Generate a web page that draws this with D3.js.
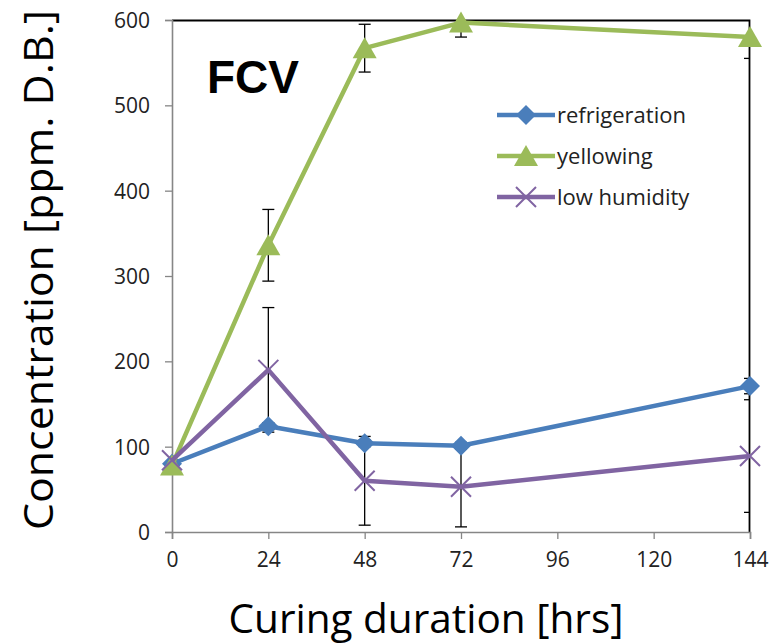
<!DOCTYPE html>
<html>
<head>
<meta charset="utf-8">
<script src="https://cdn.jsdelivr.net/npm/d3@7"></script>
<style>
  body { margin: 0; background: #fff; }
  svg { display: block; }
  text { font-family: "Open Sans", "Liberation Sans", sans-serif; }
</style>
</head>
<body>
<script>
// curing duration in hours
var hours = [0, 24, 48, 72, 144];
var xTicks = [0, 24, 48, 72, 96, 120, 144];
var yTicks = [0, 100, 200, 300, 400, 500, 600];

var seriesNames = ["refrigeration", "yellowing", "low humidity"];
var refrigeration = [80, 124, 104, 101, 171];
var refrigerationErr = [4, 4, 4, 4, 9];
var yellowing = [78, 336, 567, 597, 580];
var yellowingErr = [4, 42, 28, 17, 25];
var lowHumidity = [84, 190, 60, 53, 89];
var lowHumidityErr = [4, 73, 52, 47, 66];

var width = 774, height = 644;
var margin = {top: 20, right: 24, bottom: 112, left: 172};
var innerW = width - margin.left - margin.right;
var innerH = height - margin.top - margin.bottom;

var svg = d3.select("body").append("svg")
    .attr("width", width)
    .attr("height", height);

var canvas = svg.append("g")
    .attr("transform", "translate(" + margin.left + "," + margin.top + ")");

var x = d3.scaleLinear().domain([0, 144]).range([0, innerW]);
var y = d3.scaleLinear().domain([0, 600]).range([innerH, 0]);

// plot area border, only top and right show (black)
canvas.append("path")
    .attr("d", "M0,0.5H" + (innerW - 0.5) + "V" + innerH)
    .attr("fill", "none")
    .attr("stroke", "#000")
    .attr("stroke-width", 1.8);

canvas.append("defs").append("clipPath")
    .attr("id", "clip")
  .append("rect")
    .attr("width", innerW)
    .attr("height", innerH);

// axes
var yAxis = canvas.append("g")
    .call(d3.axisLeft(y).tickValues(yTicks).tickSize(7).tickPadding(15));
var xAxis = canvas.append("g")
    .attr("transform", "translate(0," + innerH + ")")
    .call(d3.axisBottom(x).tickValues(xTicks).tickSize(7).tickPadding(13));

[yAxis, xAxis].forEach(function(a) {
  a.select(".domain").attr("stroke", "#868686").attr("stroke-width", 1.6);
  a.selectAll(".tick line").attr("stroke", "#868686").attr("stroke-width", 1.3);
  a.selectAll(".tick text")
    .attr("fill", "#222")
    .style("font-size", "21px")
    .style("font-family", "'Open Sans', sans-serif");
});
yAxis.selectAll(".tick text").attr("dy", "0.35em");

var series = [
  {name: seriesNames[0], values: refrigeration, err: refrigerationErr, color: "#4a7ebb", marker: "diamond"},
  {name: seriesNames[1], values: yellowing, err: yellowingErr, color: "#9bbb59", marker: "triangle"},
  {name: seriesNames[2], values: lowHumidity, err: lowHumidityErr, color: "#8064a2", marker: "x"}
];

var plot = canvas.append("g").attr("clip-path", "url(#clip)");

// error bars
series.forEach(function(s) {
  var eg = plot.append("g").attr("stroke", "#000").attr("stroke-width", 1.3);
  hours.forEach(function(h, i) {
    var lo = y(s.values[i] - s.err[i]), hi = y(s.values[i] + s.err[i]), cx = x(h);
    eg.append("line").attr("x1", cx).attr("x2", cx).attr("y1", lo).attr("y2", hi);
    eg.append("line").attr("x1", cx - 6).attr("x2", cx + 6).attr("y1", lo).attr("y2", lo);
    eg.append("line").attr("x1", cx - 6).attr("x2", cx + 6).attr("y1", hi).attr("y2", hi);
  });
});

var line = d3.line()
    .x(function(d) { return x(d[0]); })
    .y(function(d) { return y(d[1]); });

function drawMarker(g, type, cx, cy, color) {
  if (type === "diamond") {
    g.append("path")
      .attr("d", "M" + cx + "," + (cy - 10) + "L" + (cx + 10) + "," + cy + "L" + cx + "," + (cy + 10) + "L" + (cx - 10) + "," + cy + "Z")
      .attr("fill", color);
  } else if (type === "triangle") {
    g.append("path")
      .attr("d", "M" + cx + "," + (cy - 11) + "L" + (cx + 12) + "," + (cy + 10) + "L" + (cx - 12) + "," + (cy + 10) + "Z")
      .attr("fill", color);
  } else {
    g.append("path")
      .attr("d", "M" + (cx - 10) + "," + (cy - 10) + "L" + (cx + 10) + "," + (cy + 10) + "M" + (cx - 10) + "," + (cy + 10) + "L" + (cx + 10) + "," + (cy - 10))
      .attr("stroke", color)
      .attr("stroke-width", 2);
  }
}

series.forEach(function(s) {
  var pts = hours.map(function(h, i) { return [h, s.values[i]]; });
  canvas.append("path")
    .datum(pts)
    .attr("fill", "none")
    .attr("stroke", s.color)
    .attr("stroke-width", 4.5)
    .attr("stroke-linejoin", "round")
    .attr("d", line);
  var mg = canvas.append("g");
  pts.forEach(function(p) {
    drawMarker(mg, s.marker, x(p[0]), y(p[1]), s.color);
  });
});

// legend
var legend = canvas.append("g").attr("transform", "translate(" + (497 - margin.left) + "," + (115 - margin.top) + ")");
series.forEach(function(s, i) {
  var row = legend.append("g").attr("transform", "translate(0," + (i * 41) + ")");
  row.append("line")
    .attr("x1", 0).attr("x2", 58).attr("y1", 0).attr("y2", 0)
    .attr("stroke", s.color).attr("stroke-width", 4.5);
  drawMarker(row, s.marker, 29, 0, s.color);
  row.append("text")
    .attr("x", 60)
    .attr("y", 0)
    .attr("dy", "0.35em")
    .attr("fill", "#222")
    .style("font-size", "22px")
    .text(s.name);
});

// FCV label
svg.append("text")
    .attr("x", 207)
    .attr("y", 93)
    .style("font-family", "'Liberation Sans', Arial, sans-serif")
    .style("font-weight", "bold")
    .style("font-size", "46px")
    .attr("fill", "#000")
    .text("FCV");

// axis titles
svg.append("text")
    .attr("transform", "translate(53,270) rotate(-90)")
    .attr("text-anchor", "middle")
    .attr("fill", "#000")
    .attr("textLength", 520)
    .attr("lengthAdjust", "spacingAndGlyphs")
    .style("font-size", "41px")
    .text("Concentration [ppm. D.B.]");

svg.append("text")
    .attr("x", 426)
    .attr("y", 633)
    .attr("text-anchor", "middle")
    .attr("fill", "#000")
    .attr("textLength", 395)
    .attr("lengthAdjust", "spacingAndGlyphs")
    .style("font-size", "40px")
    .text("Curing duration [hrs]");
</script>
</body>
</html>
